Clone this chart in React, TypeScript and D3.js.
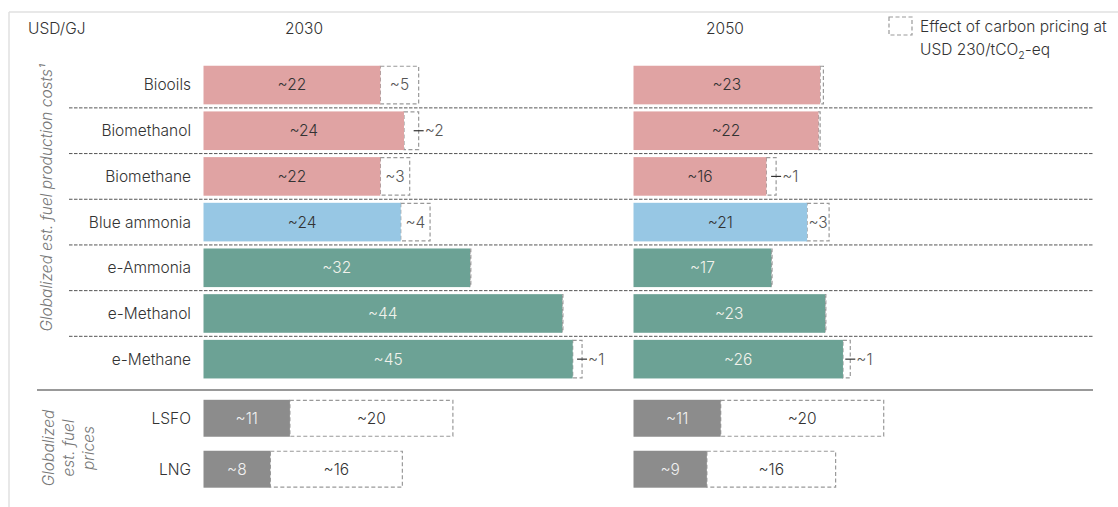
import React, { useEffect, useRef } from "react";
import * as d3 from "d3";

// fuel rows (top block)
const categories = ["Biooils", "Biomethanol", "Biomethane", "Blue ammonia", "e-Ammonia", "e-Methanol", "e-Methane"];
const fuelGroup = ["bio", "bio", "bio", "blue", "e", "e", "e"];

const cost2030 = [21.7, 24.6, 21.7, 24.2, 32.7, 44.0, 45.3];
const costLabels2030 = ["~22", "~24", "~22", "~24", "~32", "~44", "~45"];
const carbon2030 = [4.7, 1.8, 3.6, 3.6, 0.1, 0.1, 1.15];
const carbonLabels2030 = ["~5", "~2", "~3", "~4", "", "", "~1"];

const cost2050 = [22.9, 22.7, 16.3, 21.3, 16.9, 23.5, 25.7];
const costLabels2050 = ["~23", "~22", "~16", "~21", "~17", "~23", "~26"];
const carbon2050 = [0.4, 0.2, 1.2, 2.7, 0.1, 0.1, 0.9];
const carbonLabels2050 = ["", "", "~1", "~3", "", "", "~1"];

// fossil reference prices (bottom block)
const priceCategories = ["LSFO", "LNG"];
const price2030 = [10.6, 8.2];
const priceLabels2030 = ["~11", "~8"];
const priceGap2030 = [20.0, 16.2];
const priceGapLabels2030 = ["~20", "~16"];
const price2050 = [10.7, 9.0];
const priceLabels2050 = ["~11", "~9"];
const priceGap2050 = [20.0, 15.8];
const priceGapLabels2050 = ["~20", "~16"];

const years = ["2030", "2050"];

const colors: Record<string, string> = {
	bio: "#E0A3A3",
	blue: "#97C7E4",
	e: "#6CA295",
	price: "#8C8C8C"
};

const FONT = "Inter, 'Noto Sans', sans-serif";
const FS = 15.5;

export default function App() {
	const ref = useRef<SVGSVGElement | null>(null);

	useEffect(() => {
		document.body.style.margin = "0";
		const svg = d3.select(ref.current);
		svg.selectAll("*").remove();

		const width = 1118, height = 507;

		// frame
		svg.append("line").attr("x1", 9).attr("x2", width).attr("y1", 12).attr("y2", 12)
			.attr("stroke", "#e0e0e0").attr("stroke-width", 1.5);
		svg.append("line").attr("x1", 9).attr("x2", 9).attr("y1", 12).attr("y2", height)
			.attr("stroke", "#e0e0e0").attr("stroke-width", 1.5);

		const x = d3.scaleLinear().domain([0, 50]).range([0, 407.5]);
		const panelX = [203.5, 633.5];
		const titleX = [304, 725];

		const y = d3.scaleBand().domain(categories).range([62.2, 382]).paddingInner(0.155).paddingOuter(0.0775);
		const yp = d3.scaleBand().domain(priceCategories).range([392.8, 494.7]).paddingInner(0.275).paddingOuter(0.1375);

		const g = svg.append("g").style("font-family", FONT).attr("font-weight", 300);

		// header
		g.append("text").attr("x", 28).attr("y", 34).text("USD/GJ")
			.attr("font-size", FS).attr("fill", "#333");
		years.forEach((yr, i) => {
			g.append("text").attr("x", titleX[i]).attr("y", 34).attr("text-anchor", "middle")
				.attr("font-size", FS).attr("fill", "#333").text(yr);
		});

		// legend
		g.append("rect").attr("x", 889).attr("y", 17).attr("width", 23).attr("height", 18)
			.attr("fill", "none").attr("stroke", "#999").attr("stroke-width", 1.2).attr("stroke-dasharray", "4 2.5");
		g.append("text").attr("x", 920).attr("y", 32).attr("font-size", FS).attr("fill", "#333")
			.text("Effect of carbon pricing at");
		const l2 = g.append("text").attr("x", 920).attr("y", 55).attr("font-size", FS).attr("fill", "#333");
		l2.append("tspan").text("USD 230/tCO");
		l2.append("tspan").attr("font-size", 10.5).attr("dy", 4).text("2");
		l2.append("tspan").attr("dy", -4).text("-eq");

		// rotated axis labels
		g.append("text")
			.attr("transform", "translate(52," + 198 + ") rotate(-90)")
			.attr("text-anchor", "middle").attr("font-size", FS).attr("font-style", "italic").attr("fill", "#777")
			.text("Globalized est. fuel production costs\u00B9");
		["Globalized", "est. fuel", "prices"].forEach((t, i) => {
			g.append("text")
				.attr("transform", "translate(" + (54 + i * 20) + ",448) rotate(-90)")
				.attr("text-anchor", "middle").attr("font-size", FS).attr("font-style", "italic").attr("fill", "#777")
				.text(t);
		});

		// separators
		categories.slice(1).forEach((c) => {
			const sy = (y(c) as number) - (y.step() - y.bandwidth()) / 2;
			g.append("line").attr("x1", 69).attr("x2", 1093).attr("y1", sy).attr("y2", sy)
				.attr("stroke", "#555").attr("stroke-width", 1).attr("stroke-dasharray", "3.5 1.5");
		});
		g.append("line").attr("x1", 37).attr("x2", 1093).attr("y1", 390).attr("y2", 390)
			.attr("stroke", "#777").attr("stroke-width", 1.5);

		// row labels
		categories.forEach((c) => {
			g.append("text").attr("x", 191).attr("y", (y(c) as number) + y.bandwidth() / 2)
				.attr("dy", "0.35em").attr("text-anchor", "end").attr("font-size", FS).attr("fill", "#333").text(c);
		});
		priceCategories.forEach((c) => {
			g.append("text").attr("x", 191).attr("y", (yp(c) as number) + yp.bandwidth() / 2)
				.attr("dy", "0.35em").attr("text-anchor", "end").attr("font-size", FS).attr("fill", "#333").text(c);
		});

		const costs = [cost2030, cost2050];
		const costLabels = [costLabels2030, costLabels2050];
		const carbons = [carbon2030, carbon2050];
		const carbonLabels = [carbonLabels2030, carbonLabels2050];
		const prices = [price2030, price2050];
		const priceLabels = [priceLabels2030, priceLabels2050];
		const gaps = [priceGap2030, priceGap2050];
		const gapLabels = [priceGapLabels2030, priceGapLabels2050];

		panelX.forEach((px, p) => {
			const panel = g.append("g").attr("transform", "translate(" + px + ",0)");
			const rows = categories.map((c, i) => ({
				cat: c, group: fuelGroup[i], cost: costs[p][i], label: costLabels[p][i],
				carbon: carbons[p][i], carbonLabel: carbonLabels[p][i]
			}));

			// carbon pricing boxes
			panel.selectAll("rect.carbon").data(rows).enter().append("rect")
				.attr("class", "carbon")
				.attr("x", d => x(d.cost))
				.attr("y", d => (y(d.cat) as number) + 0.5)
				.attr("width", d => x(d.cost + d.carbon) - x(d.cost))
				.attr("height", y.bandwidth() - 1)
				.attr("fill", "#fff").attr("stroke", "#999").attr("stroke-width", 1.2)
				.attr("stroke-dasharray", "4 2.5");

			// cost bars
			panel.selectAll("rect.cost").data(rows).enter().append("rect")
				.attr("class", "cost")
				.attr("x", x(0))
				.attr("y", d => y(d.cat) as number)
				.attr("width", d => x(d.cost))
				.attr("height", y.bandwidth())
				.attr("fill", d => colors[d.group]);

			panel.selectAll("text.cost").data(rows).enter().append("text")
				.attr("class", "cost")
				.attr("x", d => x(d.cost) / 2)
				.attr("y", d => (y(d.cat) as number) + y.bandwidth() / 2)
				.attr("dy", "0.35em").attr("text-anchor", "middle").attr("font-size", FS)
				.attr("fill", d => (d.group === "e" ? "#f2f2ec" : "#333"))
				.text(d => d.label);

			// carbon labels: inside if there is room, else outside with a tick
			rows.forEach((d) => {
				if (!d.carbonLabel) return;
				const x1 = x(d.cost), x2 = x(d.cost + d.carbon);
				const cy = (y(d.cat) as number) + y.bandwidth() / 2;
				if (x2 - x1 > 18) {
					panel.append("text").attr("x", (x1 + x2) / 2).attr("y", cy).attr("dy", "0.35em")
						.attr("text-anchor", "middle").attr("font-size", FS).attr("fill", "#555").text(d.carbonLabel);
				} else {
					panel.append("line").attr("x1", x2 - 5).attr("x2", x2 + 5).attr("y1", cy).attr("y2", cy)
						.attr("stroke", "#333").attr("stroke-width", 1.2);
					panel.append("text").attr("x", x2 + 6).attr("y", cy).attr("dy", "0.35em")
						.attr("font-size", FS).attr("fill", "#555").text(d.carbonLabel);
				}
			});

			// fossil price rows
			const prows = priceCategories.map((c, i) => ({
				cat: c, price: prices[p][i], label: priceLabels[p][i], gap: gaps[p][i], gapLabel: gapLabels[p][i]
			}));
			panel.selectAll("rect.gap").data(prows).enter().append("rect")
				.attr("class", "gap")
				.attr("x", d => x(d.price))
				.attr("y", d => (yp(d.cat) as number) + 0.5)
				.attr("width", d => x(d.price + d.gap) - x(d.price))
				.attr("height", yp.bandwidth() - 1)
				.attr("fill", "#fff").attr("stroke", "#999").attr("stroke-width", 1.2)
				.attr("stroke-dasharray", "4 2.5");
			panel.selectAll("rect.price").data(prows).enter().append("rect")
				.attr("class", "price")
				.attr("x", x(0))
				.attr("y", d => yp(d.cat) as number)
				.attr("width", d => x(d.price))
				.attr("height", yp.bandwidth())
				.attr("fill", colors.price);
			panel.selectAll("text.price").data(prows).enter().append("text")
				.attr("class", "price")
				.attr("x", d => x(d.price) / 2)
				.attr("y", d => (yp(d.cat) as number) + yp.bandwidth() / 2)
				.attr("dy", "0.35em").attr("text-anchor", "middle").attr("font-size", FS).attr("fill", "#f2f2f2")
				.text(d => d.label);
			panel.selectAll("text.gap").data(prows).enter().append("text")
				.attr("class", "gap")
				.attr("x", d => (x(d.price) + x(d.price + d.gap)) / 2)
				.attr("y", d => (yp(d.cat) as number) + yp.bandwidth() / 2)
				.attr("dy", "0.35em").attr("text-anchor", "middle").attr("font-size", FS).attr("fill", "#333")
				.text(d => d.gapLabel);
		});
	}, []);

	return <svg ref={ref} width={1118} height={507} style={{ display: "block", background: "#fff" }} />;
}
